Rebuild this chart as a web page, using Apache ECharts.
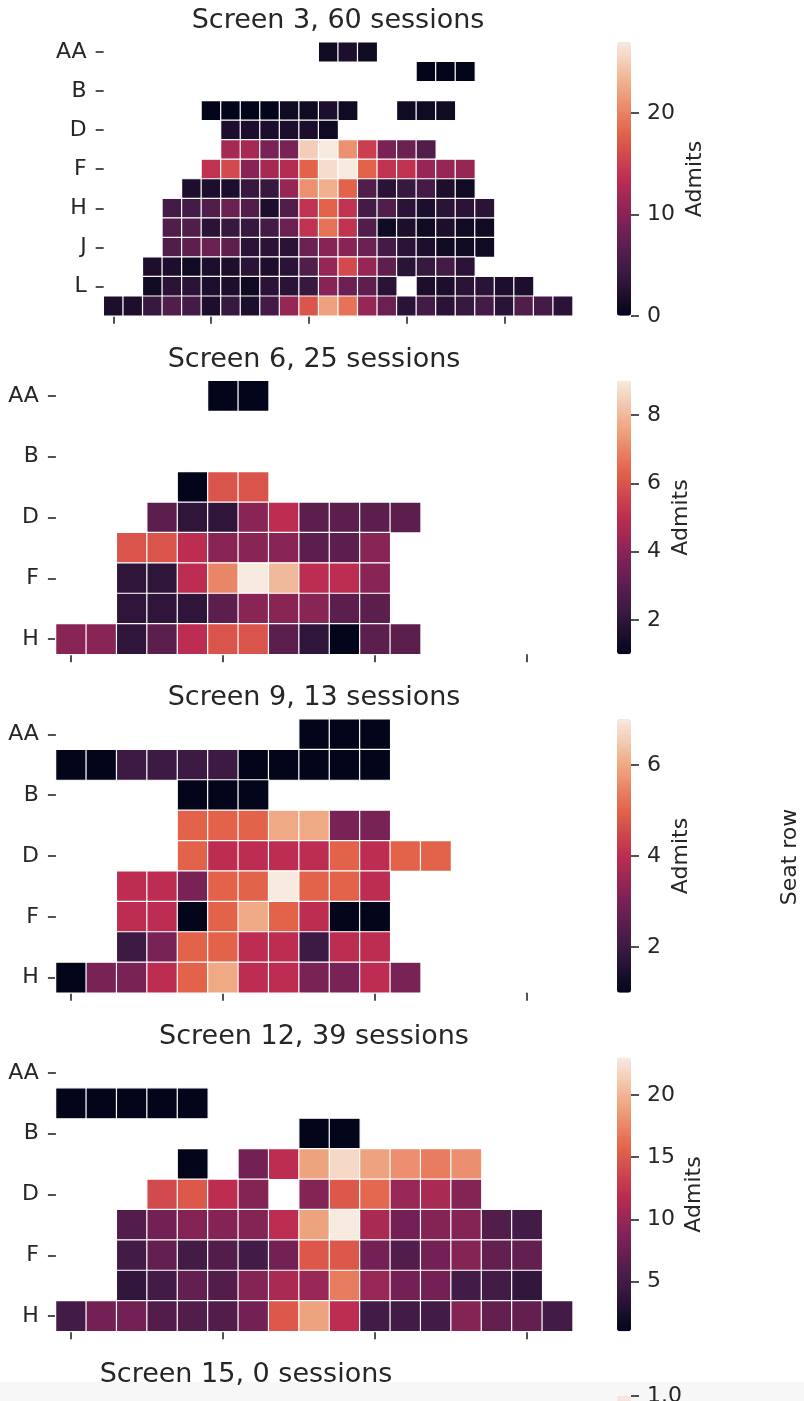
<!DOCTYPE html>
<html><head><meta charset="utf-8">
<script src="https://cdn.jsdelivr.net/npm/echarts@6/dist/echarts.min.js"></script>
<style>html,body{margin:0;padding:0;background:#fff}#c{width:804px;height:1401px}</style>
</head><body><div id="c"></div>
<script>
const _ = null;
// ---------- DATA ----------
const rows14 = ['AA','A','B','C','D','E','F','G','H','I','J','K','L','M'];
const rows9  = ['AA','A','B','C','D','E','F','G','H'];
const titles = ['Screen 3, 60 sessions','Screen 6, 25 sessions','Screen 9, 13 sessions','Screen 12, 39 sessions','Screen 15, 0 sessions'];

const screen3 = [
  [_,_,_,_,_,_,_,_,_,_,_,1,2,1,_,_,_,_,_,_,_,_,_,_],
  [_,_,_,_,_,_,_,_,_,_,_,_,_,_,_,_,0,0,0,_,_,_,_,_],
  [_,_,_,_,_,_,_,_,_,_,_,_,_,_,_,_,_,_,_,_,_,_,_,_],
  [_,_,_,_,_,0,0,0,0,1,1,2,1,_,_,1,1,1,_,_,_,_,_,_],
  [_,_,_,_,_,_,2,2,2,2,2,1,_,_,_,_,_,_,_,_,_,_,_,_],
  [_,_,_,_,_,_,12,12,9,9,25,27,21,15,9,8,6,_,_,_,_,_,_,_],
  [_,_,_,_,_,14,16,10,12,13,18,26,27,18,14,14,11,11,11,_,_,_,_,_],
  [_,_,_,_,2,2,2,4,4,11,21,23,18,6,3,4,5,2,1,_,_,_,_,_],
  [_,_,_,5,5,6,8,6,2,6,14,18,14,5,6,3,2,3,3,3,_,_,_,_],
  [_,_,_,6,6,3,4,4,5,8,14,19,14,6,1,2,1,2,1,1,_,_,_,_],
  [_,_,_,6,7,8,7,3,3,3,8,10,10,8,5,3,2,1,1,1,_,_,_,_],
  [_,_,2,2,1,2,2,3,2,3,6,11,16,11,7,3,4,5,3,_,_,_,_,_],
  [_,_,1,3,3,2,2,1,3,3,4,10,8,7,3,_,2,2,3,3,2,2,_,_],
  [2,2,4,6,5,2,4,2,5,11,17,22,19,11,8,3,5,3,4,5,3,6,5,3]
];
const screen6 = [
  [_,_,_,_,_,1,1,_,_,_,_,_,_,_,_,_,_],
  [_,_,_,_,_,_,_,_,_,_,_,_,_,_,_,_,_],
  [_,_,_,_,_,_,_,_,_,_,_,_,_,_,_,_,_],
  [_,_,_,_,1,6,6,_,_,_,_,_,_,_,_,_,_],
  [_,_,_,3,2,2,4,5,3,3,3,3,_,_,_,_,_],
  [_,_,6,6,5,4,4,4,3,3,4,_,_,_,_,_,_],
  [_,_,2,2,5,7,9,8,5,5,4,_,_,_,_,_,_],
  [_,_,2,2,2,3,4,4,4,3,3,_,_,_,_,_,_],
  [4,4,2,3,5,6,6,3,2,1,3,3,_,_,_,_,_]
];
const screen9 = [
  [_,_,_,_,_,_,_,_,1,1,1,_,_,_,_,_,_],
  [1,1,2,2,2,2,1,1,1,1,1,_,_,_,_,_,_],
  [_,_,_,_,1,1,1,_,_,_,_,_,_,_,_,_,_],
  [_,_,_,_,5,5,5,6,6,3,3,_,_,_,_,_,_],
  [_,_,_,_,5,4,4,4,4,5,4,5,5,_,_,_,_],
  [_,_,4,4,3,5,5,7,5,5,4,_,_,_,_,_,_],
  [_,_,4,4,1,5,6,5,4,1,1,_,_,_,_,_,_],
  [_,_,2,3,5,5,4,4,2,4,4,_,_,_,_,_,_],
  [1,3,3,4,5,6,4,4,3,3,4,3,_,_,_,_,_]
];
const screen12 = [
  [_,_,_,_,_,_,_,_,_,_,_,_,_,_,_,_,_],
  [1,1,1,1,1,_,_,_,_,_,_,_,_,_,_,_,_],
  [_,_,_,_,_,_,_,_,1,1,_,_,_,_,_,_,_],
  [_,_,_,_,1,_,8,12,19,22,19,18,17,18,_,_,_],
  [_,_,_,14,15,12,9,_,9,15,16,10,11,9,_,_,_],
  [_,_,6,8,9,9,9,12,19,23,11,8,9,9,6,5,_],
  [_,_,5,7,5,6,5,8,15,15,8,6,8,9,7,7,_],
  [_,_,4,5,7,6,9,11,10,17,10,8,8,5,5,4,_],
  [5,8,8,6,6,6,8,15,19,12,5,5,5,9,7,7,5]
];
const screen15 = [];
const cbMin = [0, 1, 1, 1, 0];
const cbMax = [27, 9, 7, 23, 1];
const cbTicks = [[0,10,20],[2,4,6,8],[2,4,6],[5,10,15,20],[0,0.2,0.4,0.6,0.8,1.0]];
const rocket = ['#03051A','#3d1a44','#782256','#bc2d51','#e3624a','#efa984','#f7eadf'];

// ---------- LAYOUT ----------
const screens = [screen3, screen6, screen9, screen12];
const rowSets = [rows14, rows9, rows9, rows9];
const nCols = [24, 17, 17, 17];
const tops = [42.2, 380.7, 719.2, 1057.7, 1396.2];
const H = 273.6, RIGHT = 572.7, CB_LEFT = 617, CB_W = 14;
const FONT = 'DejaVu Sans', TXT = '#262626';
const admitsX = [695, 681, 681, 694];
const titleX = [338, 314, 314, 314, 246];

const grid = [], xAxis = [], yAxis = [], series = [], visualMap = [];
const graphic = [{type: 'rect', z: -10, silent: true, shape: {x: 0, y: 1382, width: 804, height: 19},
  style: {fill: '#f7f7f7'}}];
for (let i = 0; i < 4; i++) {
  const rows = rowSets[i], nc = nCols[i], cell = H / rows.length;
  const cols = Array.from({length: nc}, (d, k) => String(k));
  grid.push({left: RIGHT - nc * cell, top: tops[i], width: nc * cell, height: H, outerBoundsMode: 'none'});
  xAxis.push({gridIndex: i, type: 'category', data: cols, position: 'bottom',
    axisLine: {show: false}, splitLine: {show: false}, axisLabel: {show: false},
    axisTick: {show: true, alignWithLabel: true, length: 8, interval: (k) => k % 5 === 0,
      lineStyle: {color: TXT, width: 1.6}}});
  yAxis.push({gridIndex: i, type: 'category', data: rows, inverse: true,
    axisLine: {show: false}, splitLine: {show: false},
    axisTick: {show: true, alignWithLabel: true, length: 8, interval: (k) => k % 2 === 0,
      lineStyle: {color: TXT, width: 1.6}},
    axisLabel: {interval: (k) => k % 2 === 0, margin: 17, fontSize: 22, color: TXT, fontFamily: FONT}});
  const data = [];
  screens[i].forEach((row, r) => row.forEach((v, c) => { if (v !== null) data.push([c, r, v]); }));
  series.push({type: 'heatmap', xAxisIndex: i, yAxisIndex: i, data, silent: true,
    itemStyle: {borderColor: '#ffffff', borderWidth: 1.2}, emphasis: {disabled: true}});
}
// empty series for screen 15
series.push({type: 'heatmap', xAxisIndex: 0, yAxisIndex: 0, data: screen15, silent: true});

for (let i = 0; i < 5; i++) {
  visualMap.push({type: 'continuous', seriesIndex: i, min: cbMin[i], max: cbMax[i],
    inRange: {color: rocket}, calculable: false, hoverLink: false, orient: 'vertical',
    left: CB_LEFT, top: tops[i], itemWidth: CB_W, itemHeight: H, padding: 0});
  const g = grid.length;
  grid.push({left: CB_LEFT, top: tops[i], width: CB_W, height: H, outerBoundsMode: 'none'});
  xAxis.push({gridIndex: g, type: 'value', show: false, min: 0, max: 1,
    axisLine: {show: false}, axisTick: {show: false}, axisLabel: {show: false}, splitLine: {show: false}});
  yAxis.push({gridIndex: g, type: 'value', min: cbMin[i], max: cbMax[i], position: 'right',
    axisLine: {show: false, onZero: false}, splitLine: {show: false},
    axisTick: {show: true, length: 8, customValues: cbTicks[i], lineStyle: {color: TXT, width: 1.6}},
    axisLabel: {customValues: cbTicks[i], margin: 16, fontSize: 22, color: TXT, fontFamily: FONT,
      formatter: (v) => i === 4 ? Number(v).toFixed(1) : String(v)}});
  graphic.push({type: 'text', x: titleX[i], y: tops[i] - 21, silent: true,
    style: {text: titles[i], textAlign: 'center', textVerticalAlign: 'middle',
      font: '27px "DejaVu Sans"', fill: TXT}});
  if (i < 4) graphic.push({type: 'text', x: admitsX[i], y: tops[i] + H / 2, rotation: Math.PI / 2, silent: true,
    style: {text: 'Admits', textAlign: 'center', textVerticalAlign: 'middle', font: '22px "DejaVu Sans"', fill: TXT}});
}
graphic.push({type: 'text', x: 790, y: 857, rotation: Math.PI / 2, silent: true,
  style: {text: 'Seat row', textAlign: 'center', textVerticalAlign: 'middle', font: '22px "DejaVu Sans"', fill: TXT}});

const chart = echarts.init(document.getElementById('c'), null, {renderer: 'canvas'});
chart.setOption({backgroundColor: '#ffffff', animation: false, grid, xAxis, yAxis, series, visualMap, graphic});
</script></body></html>
